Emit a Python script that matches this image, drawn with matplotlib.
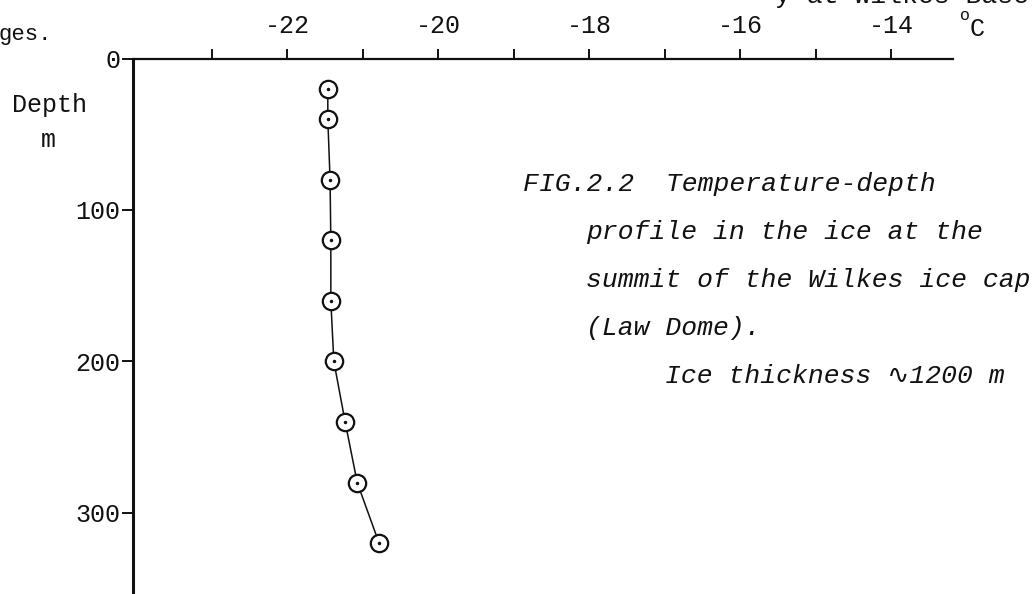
import matplotlib
matplotlib.use("Agg")
import matplotlib.pyplot as plt

# Temperature-depth profile, Law Dome
depth_m = [20, 40, 80, 120, 160, 200, 240, 280, 320]
temp_c = [-21.46, -21.46, -21.43, -21.42, -21.42, -21.38, -21.23, -21.07, -20.78]

xtick_major = [-22, -20, -18, -16, -14]
xtick_labels = ["-22", "-20", "-18", "-16", "-14"]
xtick_minor = [-23, -21, -19, -17, -15]
ytick_vals = [0, 100, 200, 300]
ytick_labels = ["0", "100", "200", "300"]

caption = [
    ("FIG.2.2  Temperature-depth", 523, 184),
    ("profile in the ice at the", 586, 232),
    ("summit of the Wilkes ice cap", 586, 280),
    ("(Law Dome).", 586, 328),
    ("Ice thickness \u223f1200 m", 665, 376),
]

W, H = 1035, 594
INK = "#111111"
MONO = ["Liberation Mono", "DejaVu Sans Mono", "DejaVu Sans",
        "Noto Sans CJK SC"]


def fpos(x, y):
    # pixel position (from top-left) -> figure fraction
    return x / W, 1 - y / H


fig = plt.figure(figsize=(W / 100, H / 100), dpi=100)
ax = fig.add_axes([133 / W, 0, (953 - 133) / W, 1 - 58.5 / H])

ax.plot(temp_c, depth_m, color=INK, lw=1.1, zorder=2)
ax.plot(temp_c, depth_m, "o", ms=12.5, mfc="white", mec=INK, mew=1.6, zorder=3)
ax.plot(temp_c, depth_m, ".", ms=3, color=INK, zorder=4)

ax.set_xlim(-24.04, -13.18)
ax.set_ylim(353.5, 0)

ax.xaxis.tick_top()
ax.set_xticks(xtick_major)
ax.set_xticklabels(xtick_labels, family=MONO, fontsize=18, color=INK)
ax.set_xticks(xtick_minor, minor=True)
ax.tick_params(axis="x", which="both", direction="out", length=7, width=1.4,
               color=INK, pad=8)
ax.set_yticks(ytick_vals)
ax.set_yticklabels(ytick_labels, family=MONO, fontsize=18, color=INK)
ax.tick_params(axis="y", direction="out", length=8, width=1.4, color=INK, pad=1)

for side in ["right", "bottom"]:
    ax.spines[side].set_visible(False)
ax.spines["top"].set_linewidth(1.6)
ax.spines["left"].set_linewidth(2.2)
ax.spines["top"].set_color(INK)
ax.spines["left"].set_color(INK)

# axis titles
fig.text(*fpos(50, 105), "Depth", family=MONO, fontsize=18, color=INK,
         ha="center", va="center")
fig.text(*fpos(48, 140), "m", family=MONO, fontsize=18, color=INK,
         ha="center", va="center")
fig.text(*fpos(965, 15), "o", family=MONO, fontsize=12, color=INK,
         ha="center", va="center")
fig.text(*fpos(977, 29), "C", family=MONO, fontsize=18, color=INK,
         ha="center", va="center")

# caption
for txt, x, y in caption:
    fig.text(*fpos(x, y), txt, family=MONO, style="italic", fontsize=19,
             color=INK, ha="left", va="center")

# text of the page above the figure, cut off by the scan
fig.text(*fpos(-2, 40), "ges.", family=MONO, fontsize=16, color=INK,
         ha="left", va="baseline")
fig.text(*fpos(775, 3), "y at Wilkes Base", family=MONO, fontsize=19,
         color=INK, ha="left", va="baseline")

fig.savefig("out.png", dpi=100)
